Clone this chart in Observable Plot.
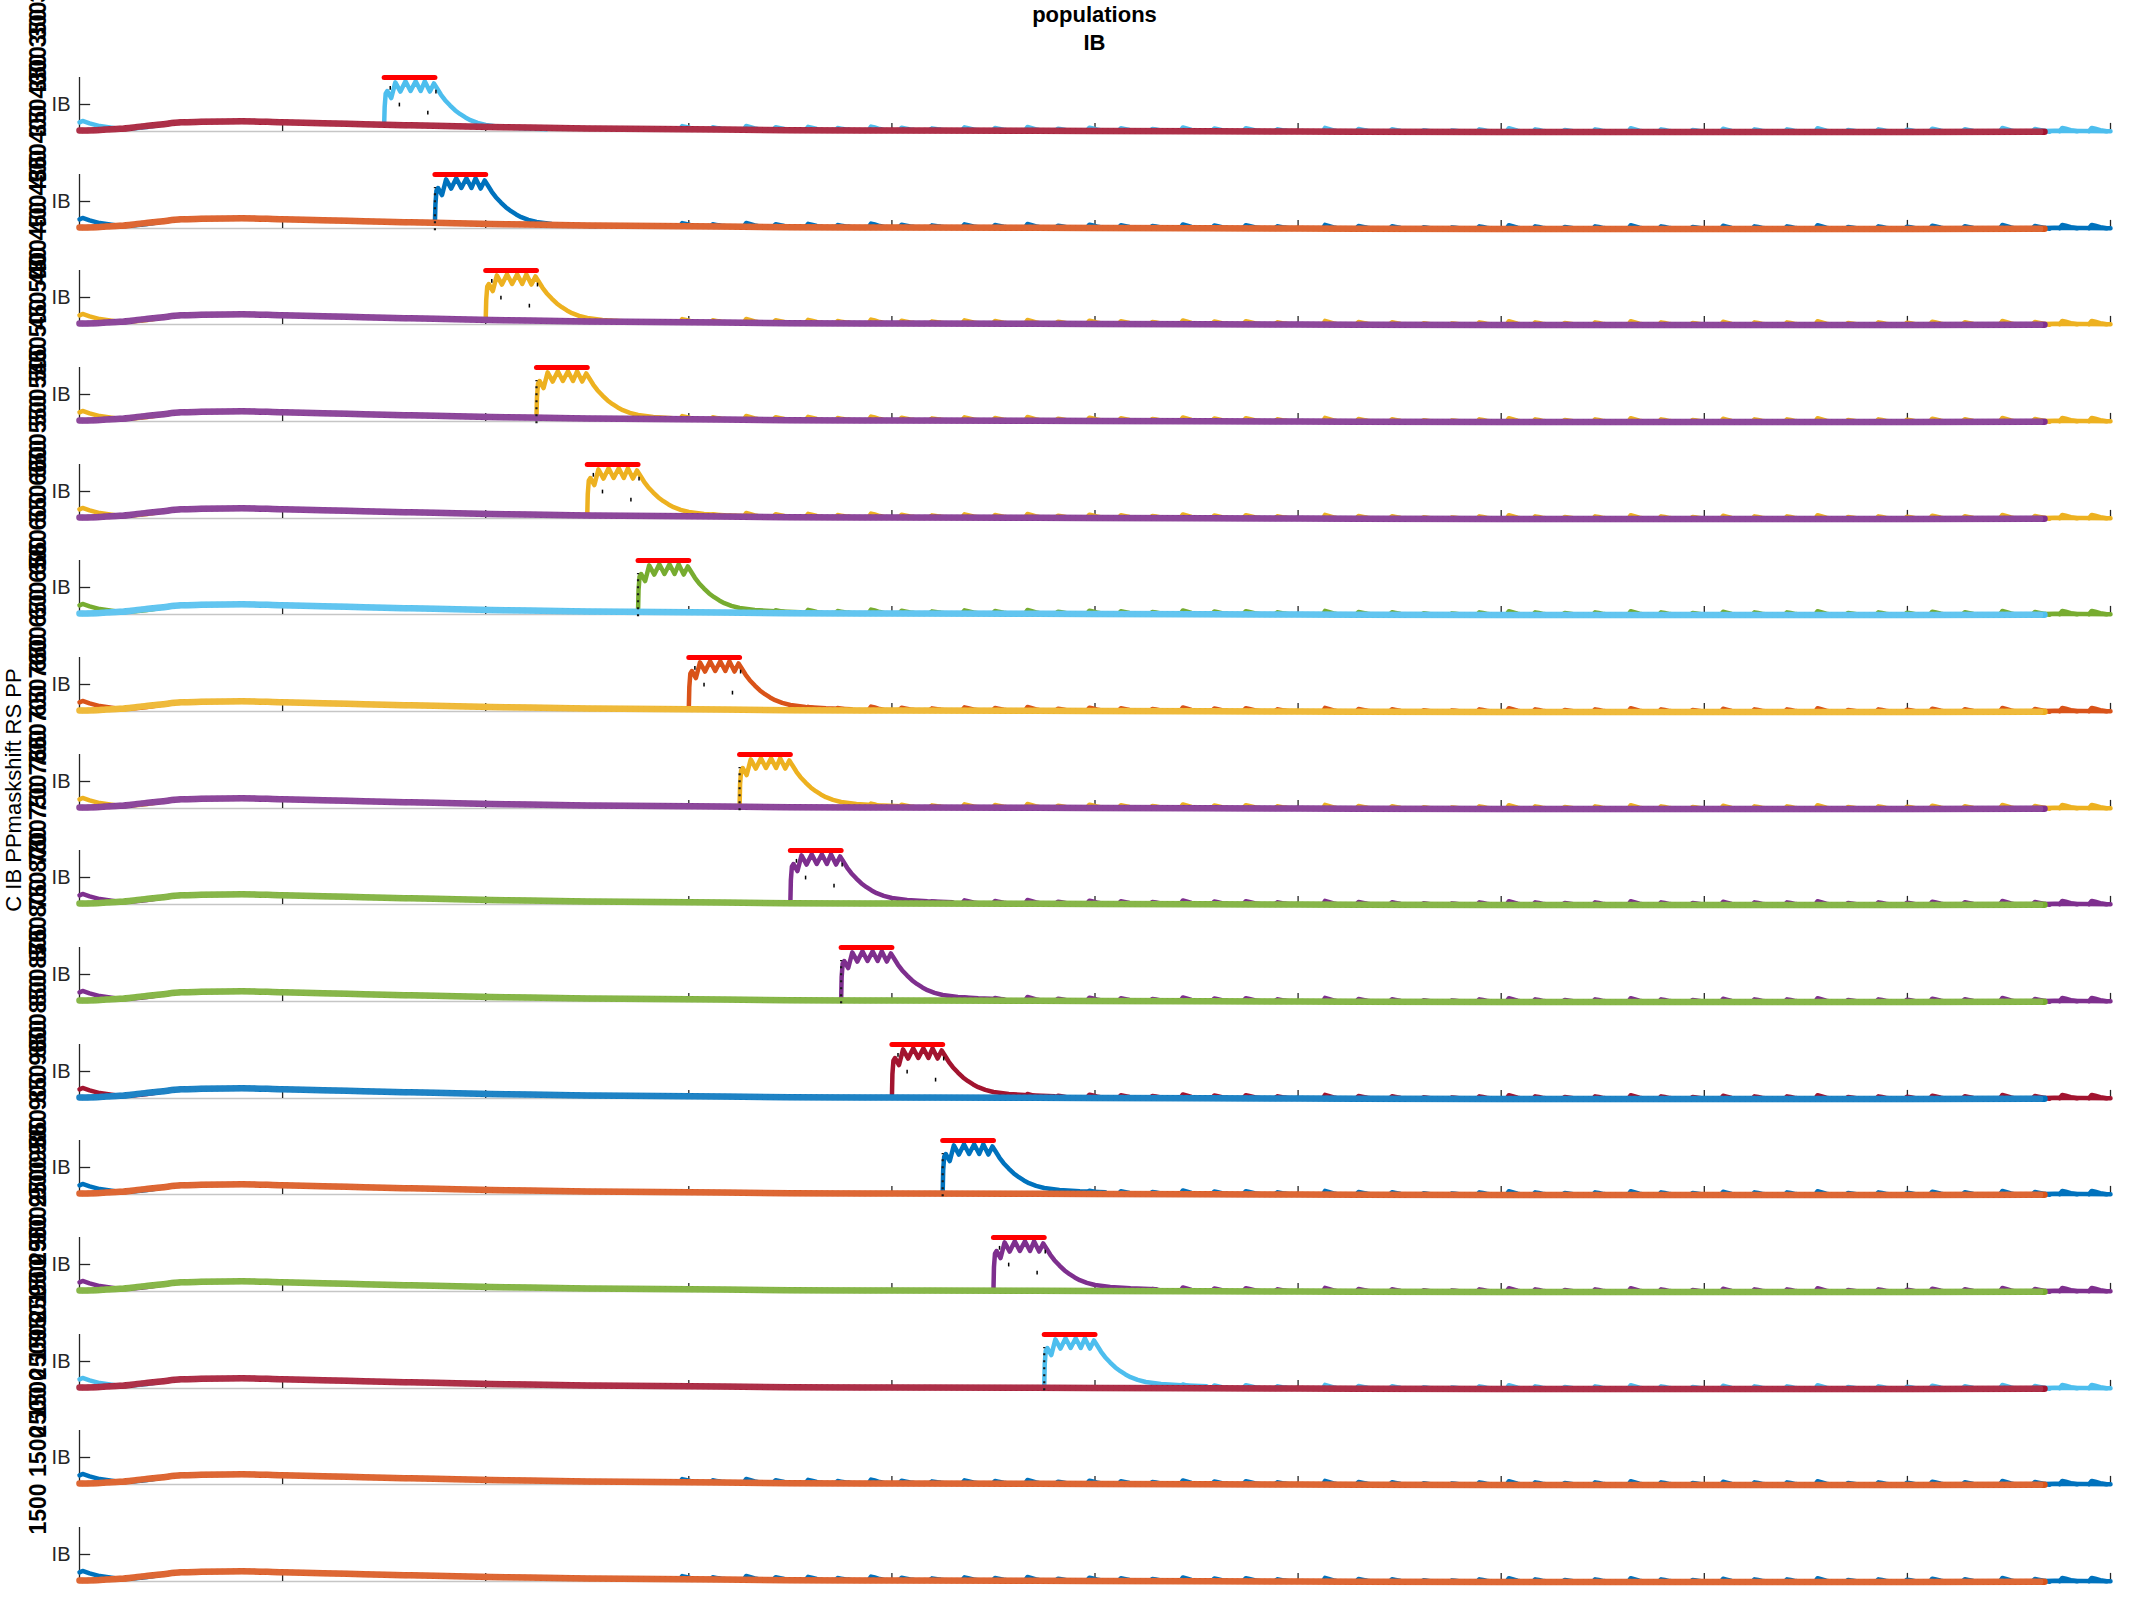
<!DOCTYPE html>
<html>
<head>
<meta charset="utf-8">
<script src="https://cdn.jsdelivr.net/npm/d3@7"></script>
<script src="https://cdn.jsdelivr.net/npm/@observablehq/plot@0.6"></script>
<style>
  body { margin: 0; background: #fff; }
  #wrap { position: relative; width: 2133px; height: 1600px; overflow: hidden; background: #fff;
          font-family: "Liberation Sans", Arial, sans-serif; }
  .title { position: absolute; left: 79px; width: 2031px; top: 1px; text-align: center;
           font-weight: bold; font-size: 22px; line-height: 27.5px; color: #000; }
  .biglab { position: absolute; width: 400px; height: 26px; line-height: 26px; text-align: center;
            font-size: 22px; color: #000; left: -186.5px; top: 777px; transform: rotate(-90deg);
            transform-origin: 50% 50%; white-space: nowrap; }
</style>
</head>
<body>
<div id="wrap">
  <div class="title">populations<br>IB</div>
  <div class="biglab">C IB PPmaskshift RS PP</div>
</div>
<script>
// ---------- data ----------
const xTicks = [200, 400, 600, 800, 1000, 1200, 1400, 1600, 1800, 2000];

// stimulus onset per panel (ms); last two panels have no burst
const onsets = [300, 350, 400, 450, 500, 550, 600, 650, 700, 750, 800, 850, 900, 950, null, null];
// level of the slow population at each onset
const onsetBase = [12.5, 10.5, 8.5, 7, 5.5, 4.5, 4, 3, 2, 1.8, 1.5, 1.3, 1.1, 1, null, null];

const panelLabels = [
  "300 300 300 300 300", "350 350 350 350 350", "400 400 400 400 400", "450 450 450 450 450",
  "500 500 500 500 500", "550 550 550 550 550", "600 600 600 600 600", "650 650 650 650 650",
  "700 700 700 700 700", "750 750 750 750 750", "800 800 800 800 800", "850 850 850 850 850",
  "900 900 900 900 900", "950 950 950 950 950", "2500 2500 2500 2500 2500", "1500 1500 1500 1500 1500"
];

const burstColors = ["#4DBEEE", "#0072BD", "#EDB120", "#EDB120", "#EDB120", "#77AC30", "#D95319", "#EDB120",
                     "#7E2F8E", "#7E2F8E", "#A2142F", "#0072BD", "#7E2F8E", "#4DBEEE", "#0072BD", "#0072BD"];
const slowColors  = ["#A2142F", "#D95319", "#7E2F8E", "#7E2F8E", "#7E2F8E", "#4DBEEE", "#EDB120", "#7E2F8E",
                     "#77AC30", "#77AC30", "#0072BD", "#D95319", "#77AC30", "#A2142F", "#D95319", "#D95319"];

// slow (thick, square-marker) trace
const slowX = [0, 20, 40, 60, 80, 100, 120, 160, 200, 240, 280, 320, 360, 420, 500, 600, 700, 800, 1000, 1200, 1400, 1700, 1935];
const slowY = [2, 3, 5, 9, 13, 17, 18, 19, 17, 15.5, 13.5, 11.7, 10, 8, 5.5, 4, 2.5, 1.8, 1, 0, -1, -1, -0.5];

// start of the fast trace (visible part before it merges with the slow trace)
const startX = [0, 3, 10, 20, 35, 50, 65, 80];
const startY = [17, 19.5, 15, 10, 6, 5, 8, 12];

// burst shape: offset after onset (ms) and value
const burstOff = [0.5, 1.5, 3, 7, 11, 16, 21, 26, 31, 36, 40, 45, 49, 52, 56, 60, 65, 70, 75, 80, 85, 92, 100, 115, 135, 160];
const burstVal = [45, 70, 75, 62, 91, 74, 93, 75, 93, 75, 93, 74, 89, 80, 68, 58, 48, 39, 32, 26, 21, 16, 12, 8.5, 6, 4];
const stimLength = 50;
const stimLevel = 100;

// small black spike marks inside burst (offset, value)
const spikeOff = [6, 15, 43, 51];
const spikeVal = [80, 49, 34, 73];

// small periodic bumps of the fast trace
const bumpX = [592, 622, 655, 684, 716, 745, 778, 808, 838, 870, 900, 932, 962, 993, 1024, 1055, 1085, 1116, 1147,
               1178, 1225, 1258, 1291, 1322, 1350, 1377, 1406, 1432, 1461, 1491, 1526, 1556, 1587, 1617, 1648, 1680,
               1710, 1740, 1770, 1798, 1823, 1855, 1892, 1924, 1951, 1980];
const bumpBase = [4, 3.7, 3.3, 3, 2.6, 2.3, 2.1, 1.9, 1.8, 1.7, 1.5, 1.3, 1.1, 1, 0.9, 0.7, 0.5, 0.4, 0.2,
                  0, -0.3, -0.5, -0.7, -0.8, -0.9, -1, -1, -1, -1, -1, -1, -1, -1, -1, -1, -1,
                  -1, -1, -1, -0.8, -0.8, -0.7, -0.6, -0.5, 0.5, 0.5];
const bumpH = [6, 4, 7, 5, 6, 4, 7, 5, 4, 6, 5, 7, 4, 6, 5, 4, 7, 5, 6,
               4, 7, 5, 5, 3, 3, 5, 7, 5, 4, 5, 7, 5, 4, 6, 5, 5,
               7, 4, 5, 4, 6, 5, 7, 5, 6, 6];
const bumpShapeOff = [-1, 1.5, 5, 10, 16];
const bumpShapeRel = [0, 1, 0.75, 0.35, 0];

// tail of the fast trace after the slow trace ends
const endX = [1935, 1945, 2000];
const endY = [1, 1.5, 0.5];

// ---------- drawing ----------
const wrap = document.getElementById("wrap");
const panelTop0 = 77, panelStep = 96.667, panelH = 54, mT = 6, mB = 6;

for (let i = 0; i < 16; i++) {
  const onset = onsets[i];
  const fast = [];
  startX.forEach((x, j) => fast.push({x, y: startY[j], z: "start"}));
  if (onset != null) {
    fast.push({x: onset, y: onsetBase[i], z: "burst"});
    burstOff.forEach((o, j) => fast.push({x: onset + o, y: burstVal[j], z: "burst"}));
  }
  bumpX.forEach((bx, k) => {
    if (onset != null && bx < onset + 110) return;
    bumpShapeOff.forEach((o, j) => fast.push({x: bx + o, y: bumpBase[k] + bumpH[k] * bumpShapeRel[j], z: "b" + k}));
  });
  endX.forEach((x, j) => fast.push({x, y: endY[j], z: "end"}));

  const slow = slowX.map((x, j) => ({x, y: slowY[j]}));

  const marks = [
    Plot.ruleY([0], {stroke: "#c6c6c6", strokeWidth: 1.5}),
    Plot.ruleX(xTicks, {y1: 0, y2: 15, stroke: "#262626", strokeWidth: 1.3}),
    Plot.ruleX([0], {y1: 0, y2: 100, stroke: "#262626", strokeWidth: 1.3}),
    Plot.ruleY([50], {x1: 0, x2: 11, stroke: "#262626", strokeWidth: 1.3}),
    Plot.text([{x: 0, y: 50}], {x: "x", y: "y", text: () => "IB", textAnchor: "end", dx: -9, fontSize: 20, fill: "#262626"}),
    Plot.line(fast, {x: "x", y: "y", z: "z", stroke: burstColors[i], strokeWidth: 4.5, strokeLinejoin: "round", strokeLinecap: "round"}),
    Plot.line(slow, {x: "x", y: "y", stroke: slowColors[i], strokeWidth: 6.5, curve: "monotone-x"}),
    Plot.line(slow, {x: "x", y: "y", stroke: "#ffffff", strokeOpacity: 0.12, strokeWidth: 6.5, strokeDasharray: "0.8,4.6", curve: "monotone-x"}),
    Plot.text([panelLabels[i]], {frameAnchor: "left", text: d => d, rotate: -90, dx: -41, dy: -20, fontSize: 23, fontWeight: 900, fill: "#000"})
  ];
  if (onset != null) {
    marks.push(Plot.line([{x: onset, y: stimLevel}, {x: onset + stimLength, y: stimLevel}],
      {x: "x", y: "y", stroke: "#ff0000", strokeWidth: 5, strokeLinecap: "round"}));
    if (i % 2 === 1) {
      marks.push(Plot.ruleX([onset], {y1: -4, y2: 76, stroke: "#1a1a1a", strokeWidth: 2.2, strokeDasharray: "2,5"}));
    } else {
      const sp = spikeOff.map((o, j) => ({x: onset + o, v: spikeVal[j]}));
      marks.push(Plot.ruleX(sp, {x: "x", y1: d => d.v - 3.5, y2: d => d.v + 3.5, stroke: "#000", strokeWidth: 1.5}));
    }
  }

  const svg = Plot.plot({
    width: 2133, height: panelH + mT + mB,
    marginLeft: 79, marginRight: 23, marginTop: mT, marginBottom: mB,
    x: {domain: [0, 2000], axis: null},
    y: {domain: [0, 100], axis: null},
    style: {background: "transparent", overflow: "visible", color: "#262626",
            fontFamily: "'Liberation Sans', Arial, sans-serif"},
    marks
  });
  svg.style.position = "absolute";
  svg.style.left = "0px";
  svg.style.top = (panelTop0 + i * panelStep - mT) + "px";
  wrap.appendChild(svg);
}
</script>
</body>
</html>
